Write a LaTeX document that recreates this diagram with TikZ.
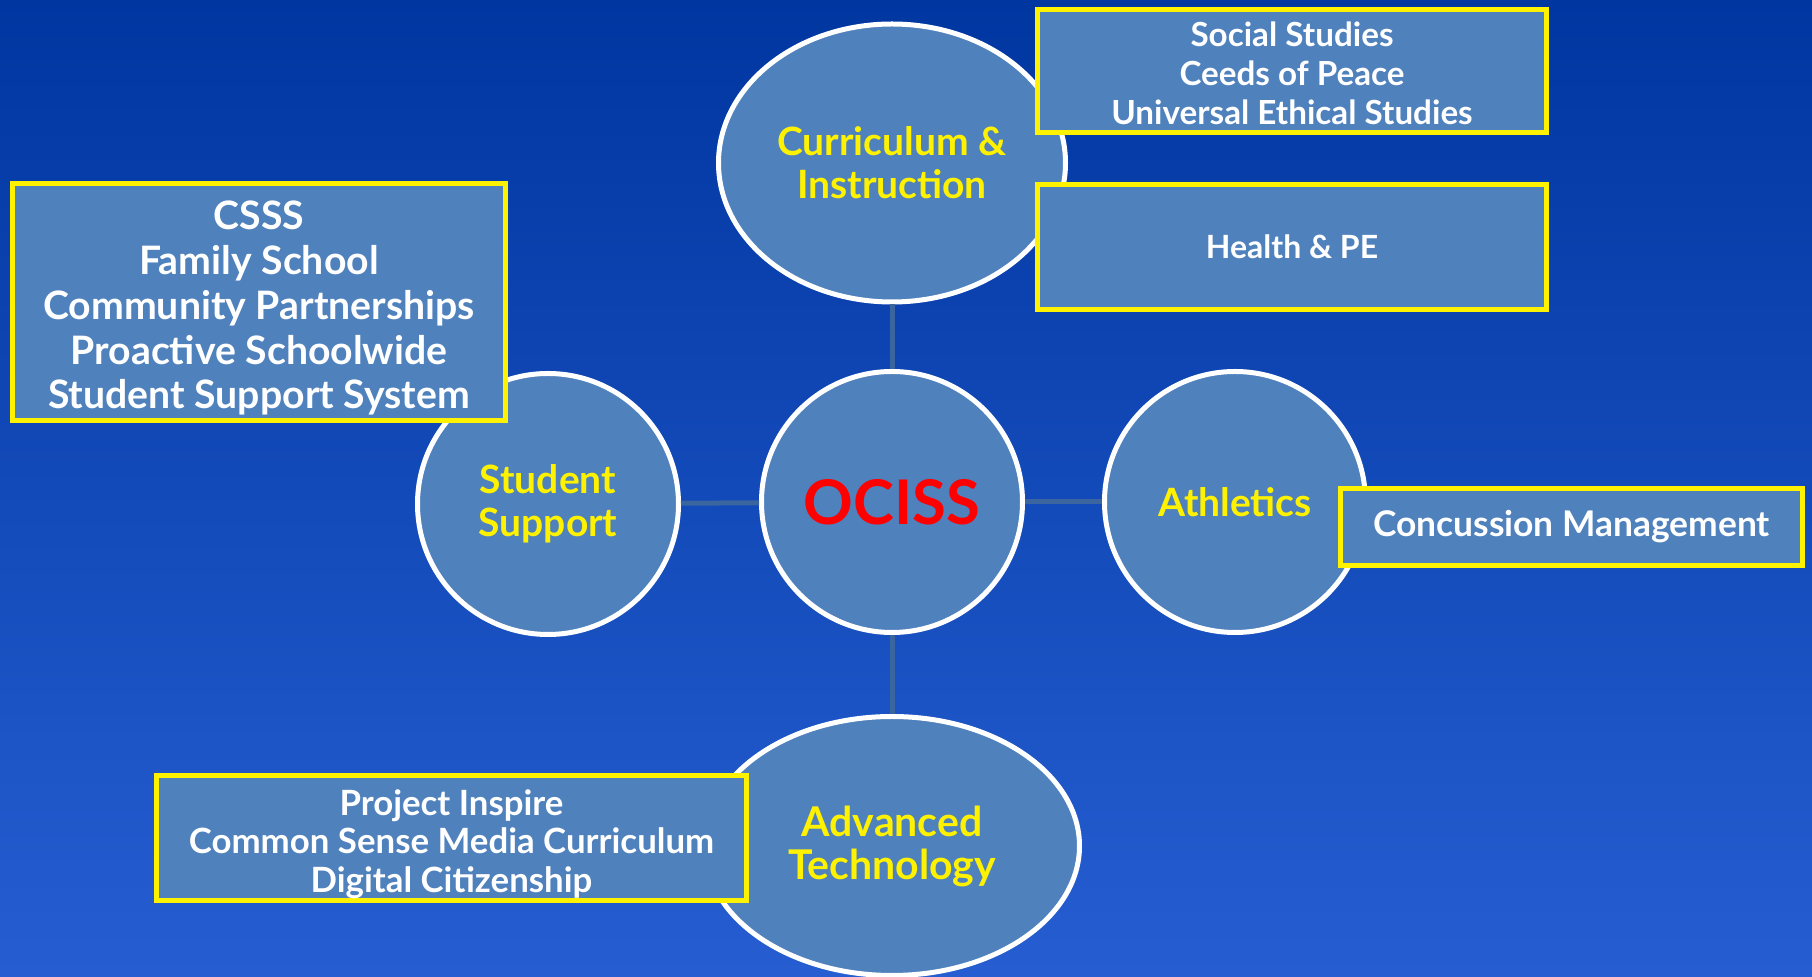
\documentclass[tikz,border=0pt]{standalone}
\usepackage{fontspec}
\setmainfont{Lato}
\usetikzlibrary{shapes.geometric}
\definecolor{bgtop}{RGB}{0,54,160}
\definecolor{bgmid}{RGB}{4,64,176}
\definecolor{bgbot}{RGB}{38,94,210}
\definecolor{hubblue}{RGB}{79,129,189}
\definecolor{spokeblue}{RGB}{58,101,158}
\newcommand{\fs}[2]{\fontsize{#1}{#2}\selectfont}

\begin{document}
\begin{tikzpicture}[x=0.5pt,y=-0.5pt]
\tikzset{
  bubble/.style={circle,draw=white,line width=2.5pt,fill=hubblue,minimum size=130.5pt,
    inner sep=0pt,text=yellow,align=center,font=\bfseries\fs{19.5}{21.5}},
  oval/.style={bubble,ellipse},
  tagbox/.style={rectangle,draw=yellow,line width=2.5pt,fill=hubblue,inner sep=0pt,
    text=white,align=center},
  spoke/.style={draw=spokeblue,line width=2.5pt}
}
% background
\shade[top color=bgtop,middle color=bgmid,bottom color=bgbot] (0,0) rectangle (1812,977);
\useasboundingbox (0,0) rectangle (1812,977);

% hub and spokes
\node[bubble] (ociss) at (892,502) {};
\node[oval,minimum width=173.5pt,minimum height=139pt] (cur) at (892,163) {Curriculum \&\\Instruction};
\node[bubble] (stu) at (548,504) {Student\\Support};
\node[bubble] (ath) at (1235,502) {Athletics};
\node[oval,minimum width=187.5pt,minimum height=129.5pt,font=\bfseries\fs{20.5}{21.5}] (adv) at (892,846) {Advanced\\Technology};
\node[text=red,font=\bfseries\fs{30.8}{32}] (title) at (ociss) {OCISS};

\draw[spoke] (ociss) -- (cur);
\draw[spoke] (ociss) -- (adv);
\draw[spoke] (ociss) -- (stu);
\draw[spoke] (ociss) -- (ath);

% programme boxes
\node[tagbox,minimum width=254.5pt,minimum height=61.5pt,font=\bfseries\fs{16.6}{19.4}] (social) at (1292,71)
  {\rule{0pt}{14.5pt}Social Studies\\Ceeds of Peace\\Universal Ethical Studies};
\node[tagbox,minimum width=254.5pt,minimum height=62.5pt,font=\bfseries\fs{16}{19}] (health) at (1292,247)
  {Health \& PE};
\node[tagbox,minimum width=246.5pt,minimum height=118.5pt,font=\bfseries\fs{19.6}{22.4}] (csss) at (259,302)
  {\rule{0pt}{20.5pt}CSSS\\Family School\\Community Partnerships\\Proactive Schoolwide\\Student Support System};
\node[tagbox,minimum width=231pt,minimum height=38.5pt,font=\bfseries\fs{17.7}{20}] (concuss) at (1571.5,527)
  {Concussion Management};
\node[tagbox,minimum width=295pt,minimum height=62.5pt,font=\bfseries\fs{17.4}{19.2}] (inspire) at (451.5,838)
  {\rule{0pt}{18.8pt}Project Inspire\\Common Sense Media Curriculum\\Digital Citizenship};
\end{tikzpicture}
\end{document}
